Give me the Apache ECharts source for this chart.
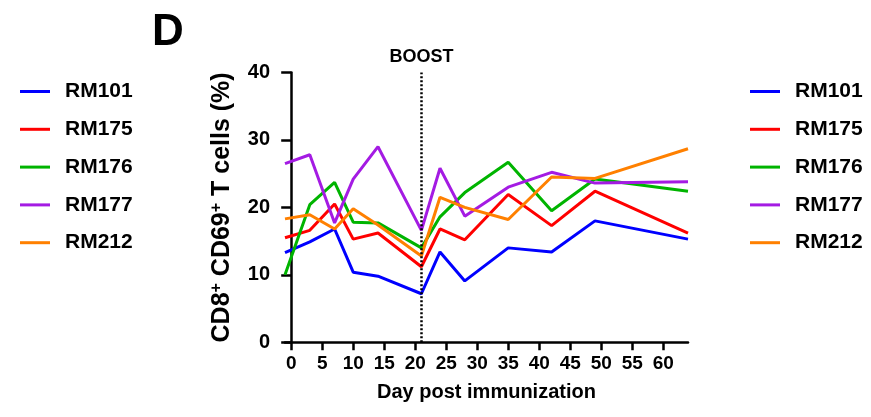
<!DOCTYPE html>
<html>
<head>
<meta charset="utf-8">
<script src="https://cdn.jsdelivr.net/npm/echarts@6/dist/echarts.min.js"></script>
<style>
  html, body { margin: 0; padding: 0; background: #fff; }
  #chart { width: 871px; height: 417px; }
</style>
</head>
<body>
<div id="chart"></div>
<script>
// Sampling days (day -1 = baseline before immunization)
const days = [-1, 3, 7, 10, 14, 21, 24, 28, 35, 42, 49, 64];

// % CD8+ CD69+ T cells per animal
const rm101 = [13.3, 14.9, 16.8, 10.4, 9.8, 7.2, 13.4, 9.1, 14.0, 13.4, 18.0, 15.3];
const rm175 = [15.5, 16.6, 20.5, 15.3, 16.2, 11.2, 16.8, 15.2, 21.9, 17.3, 22.4, 16.2];
const rm176 = [10.0, 20.4, 23.7, 17.8, 17.7, 14.0, 18.6, 22.2, 26.7, 19.5, 24.2, 22.4];
const rm177 = [26.5, 27.8, 17.7, 24.2, 29.0, 16.6, 25.8, 18.7, 23.0, 25.2, 23.6, 23.8];
const rm212 = [18.3, 18.9, 16.8, 19.8, 17.4, 12.8, 21.5, 20.0, 18.2, 24.5, 24.3, 28.7];

const animals = ['RM101', 'RM175', 'RM176', 'RM177', 'RM212'];
const values = [rm101, rm175, rm176, rm177, rm212];
const colors = ['#0000ff', '#ff0000', '#00b400', '#a41be3', '#ff8000'];

// Axis ticks
const xTicks = [0, 5, 10, 15, 20, 25, 30, 35, 40, 45, 50, 55, 60];
const boostDay = 21;

const FONT = 'Arial, "Liberation Sans", sans-serif';

const chart = echarts.init(document.getElementById('chart'), null, { renderer: 'canvas' });

const series = animals.map((name, i) => ({
  name: name,
  type: 'line',
  data: days.map((d, j) => [d, values[i][j]]),
  symbol: 'none',
  color: colors[i],
  lineStyle: { width: 3, color: colors[i] },
  z: 3
}));

// Dotted boost marker
series[0].markLine = {
  silent: true,
  symbol: ['none', 'none'],
  lineStyle: { color: '#000', type: [2, 2], width: 2.5 },
  label: {
    show: true, position: 'end', formatter: 'BOOST', distance: 6,
    color: '#000', fontFamily: FONT, fontWeight: 'bold', fontSize: 18
  },
  data: [{ xAxis: boostDay }]
};

const legendBase = {
  orient: 'vertical',
  top: 75.5,
  icon: 'rect',
  itemWidth: 30,
  itemHeight: 3,
  itemGap: 15.8,
  textStyle: {
    fontFamily: FONT, fontSize: 21, fontWeight: 'bold', color: '#000', lineHeight: 22,
    padding: [0, 0, 0, 10]
  },
  data: animals
};

chart.setOption({
  animation: false,
  backgroundColor: '#fff',
  title: {
    text: 'D', left: 147, top: 6,
    textStyle: { fontFamily: FONT, fontWeight: 'bold', fontSize: 44, color: '#000' }
  },
  legend: [
    Object.assign({}, legendBase, { left: 15 }),
    Object.assign({}, legendBase, { left: 745 })
  ],
  grid: { left: 285, right: 183, top: 72.5, bottom: 74.7, containLabel: false },
  xAxis: {
    type: 'value',
    min: -1, max: 64,
    name: 'Day post immunization',
    nameLocation: 'middle',
    nameGap: 40,
    nameTextStyle: { fontFamily: FONT, fontWeight: 'bold', fontSize: 20, color: '#000' },
    splitLine: { show: false },
    axisLine: { show: true, onZero: false, lineStyle: { color: '#000', width: 2.5 } },
    axisTick: { show: true, customValues: xTicks, length: 8, lineStyle: { color: '#000', width: 2.5 } },
    axisLabel: {
      customValues: xTicks, margin: 12,
      fontFamily: FONT, fontWeight: 'bold', fontSize: 19, color: '#000'
    }
  },
  yAxis: {
    type: 'value',
    min: 0, max: 40, interval: 10,
    name: '{b|CD8}{s|+}{b| CD69}{s|+}{b| T cells (%)}',
    nameLocation: 'middle',
    nameGap: 49,
    nameRotate: 90,
    nameTextStyle: {
      fontFamily: FONT, fontWeight: 'bold', fontSize: 25, color: '#000',
      rich: {
        b: { fontFamily: FONT, fontWeight: 'bold', fontSize: 25, color: '#000' },
        s: { fontFamily: FONT, fontWeight: 'bold', fontSize: 16, color: '#000', padding: [0, 0, 11, 0] }
      }
    },
    splitLine: { show: false },
    axisLine: { show: true, lineStyle: { color: '#000', width: 2.5 } },
    axisTick: { show: true, length: 10, lineStyle: { color: '#000', width: 2.5 } },
    axisLabel: { margin: 15, fontFamily: FONT, fontWeight: 'bold', fontSize: 20, color: '#000' }
  },
  series: series
});
</script>
</body>
</html>
